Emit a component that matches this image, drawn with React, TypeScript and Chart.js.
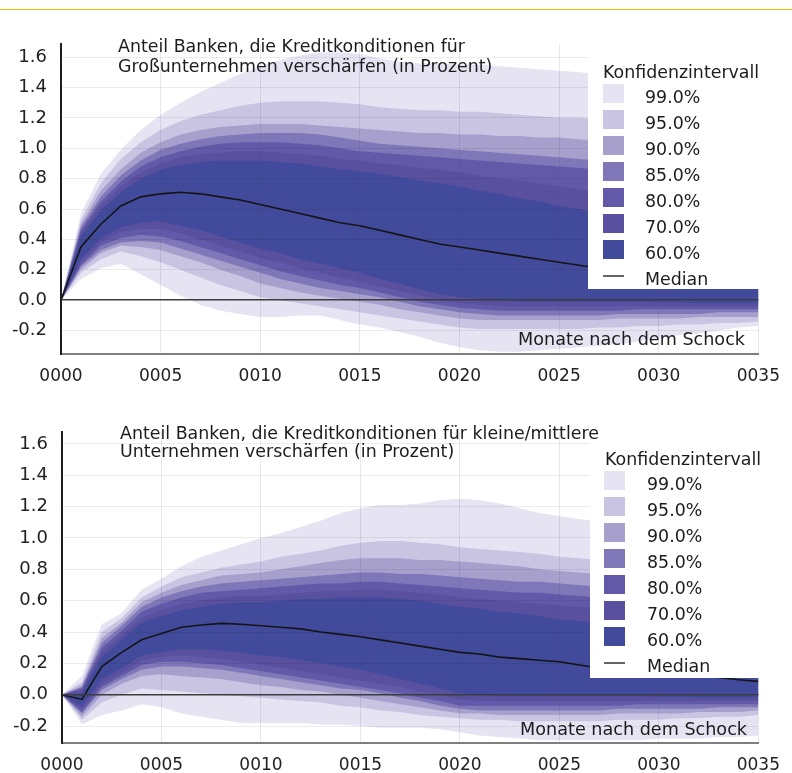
import React, { useEffect, useRef } from "react";
import { Chart, registerables } from "chart.js";

Chart.register(...registerables);

const FONT = "'DejaVu Sans', 'Liberation Sans', sans-serif";
const W = 792;

// Monate nach dem Schock (x categories)
const months = [0, 1, 2, 3, 4, 5, 6, 7, 8, 9, 10, 11, 12, 13, 14, 15, 16, 17, 18, 19, 20, 21, 22, 23, 24, 25, 26, 27, 28, 29, 30, 31, 32, 33, 34, 35];

const levelLabels = ["60.0%", "70.0%", "80.0%", "85.0%", "90.0%", "95.0%", "99.0%"];
const levelColors = ["#424b9b", "#5a50a0", "#625aa9", "#7f77b8", "#a7a0cd", "#c8c4e2", "#e6e4f3"];

const xTickStep = 5;
const yTickStep = 0.2;

// ---------- Panel 1: Großunternehmen ----------
const gMedian = [0, 0.35, 0.50, 0.62, 0.68, 0.70, 0.71, 0.70, 0.68, 0.66, 0.63, 0.60, 0.57, 0.54, 0.51, 0.49, 0.46, 0.43, 0.40, 0.37, 0.35, 0.33, 0.31, 0.29, 0.27, 0.25, 0.23, 0.21, 0.20, 0.18, 0.17, 0.16, 0.15, 0.14, 0.13, 0.12];

const gUp99 = [0, 0.57, 0.83, 0.99, 1.12, 1.22, 1.30, 1.37, 1.43, 1.49, 1.54, 1.58, 1.61, 1.63, 1.63, 1.62, 1.59, 1.57, 1.56, 1.56, 1.55, 1.55, 1.54, 1.53, 1.52, 1.51, 1.50, 1.49, 1.48, 1.47, 1.46, 1.45, 1.44, 1.43, 1.42, 1.41];
const gUp95 = [0, 0.53, 0.77, 0.93, 1.04, 1.12, 1.18, 1.22, 1.25, 1.28, 1.30, 1.31, 1.31, 1.31, 1.30, 1.29, 1.27, 1.26, 1.25, 1.25, 1.24, 1.24, 1.23, 1.22, 1.21, 1.20, 1.20, 1.19, 1.18, 1.17, 1.17, 1.16, 1.15, 1.14, 1.14, 1.13];
const gUp90 = [0, 0.50, 0.72, 0.86, 0.97, 1.04, 1.09, 1.12, 1.14, 1.15, 1.16, 1.16, 1.16, 1.15, 1.14, 1.13, 1.12, 1.11, 1.10, 1.10, 1.09, 1.09, 1.08, 1.08, 1.07, 1.07, 1.06, 1.05, 1.04, 1.03, 1.02, 1.01, 1.00, 0.99, 0.98, 0.97];
const gUp85 = [0, 0.48, 0.68, 0.82, 0.92, 0.99, 1.03, 1.06, 1.08, 1.09, 1.10, 1.10, 1.10, 1.09, 1.07, 1.05, 1.03, 1.02, 1.01, 1.00, 0.99, 0.98, 0.97, 0.96, 0.95, 0.94, 0.93, 0.92, 0.91, 0.90, 0.89, 0.88, 0.87, 0.86, 0.85, 0.84];
const gUp80 = [0, 0.46, 0.65, 0.78, 0.88, 0.94, 0.98, 1.01, 1.03, 1.04, 1.04, 1.04, 1.03, 1.02, 1.00, 0.98, 0.97, 0.96, 0.95, 0.94, 0.93, 0.92, 0.91, 0.90, 0.89, 0.88, 0.87, 0.86, 0.85, 0.84, 0.83, 0.82, 0.81, 0.80, 0.79, 0.78];
const gUp70 = [0, 0.44, 0.62, 0.75, 0.84, 0.90, 0.94, 0.96, 0.97, 0.98, 0.98, 0.97, 0.96, 0.95, 0.93, 0.92, 0.90, 0.89, 0.87, 0.86, 0.84, 0.82, 0.80, 0.79, 0.77, 0.75, 0.73, 0.71, 0.69, 0.67, 0.65, 0.63, 0.61, 0.59, 0.57, 0.55];
const gUp60 = [0, 0.42, 0.59, 0.71, 0.80, 0.86, 0.89, 0.91, 0.92, 0.92, 0.92, 0.91, 0.90, 0.88, 0.86, 0.85, 0.83, 0.81, 0.79, 0.77, 0.75, 0.72, 0.70, 0.67, 0.65, 0.62, 0.60, 0.57, 0.55, 0.52, 0.50, 0.48, 0.46, 0.44, 0.42, 0.40];

const gLo60 = [0, 0.27, 0.41, 0.48, 0.51, 0.52, 0.49, 0.46, 0.42, 0.38, 0.34, 0.31, 0.27, 0.24, 0.21, 0.18, 0.14, 0.11, 0.07, 0.04, 0.02, 0.01, 0.0, -0.01, -0.01, -0.01, -0.01, -0.01, -0.01, -0.01, -0.015, -0.015, -0.02, -0.02, -0.02, -0.02];
const gLo70 = [0, 0.25, 0.38, 0.45, 0.47, 0.47, 0.44, 0.40, 0.36, 0.32, 0.28, 0.25, 0.21, 0.18, 0.15, 0.12, 0.09, 0.06, 0.03, 0.0, -0.02, -0.03, -0.04, -0.04, -0.04, -0.04, -0.04, -0.04, -0.04, -0.04, -0.04, -0.04, -0.04, -0.04, -0.04, -0.04];
const gLo80 = [0, 0.23, 0.36, 0.41, 0.43, 0.42, 0.39, 0.35, 0.31, 0.27, 0.23, 0.19, 0.16, 0.13, 0.10, 0.08, 0.05, 0.02, -0.01, -0.03, -0.05, -0.06, -0.07, -0.07, -0.07, -0.07, -0.07, -0.07, -0.07, -0.06, -0.06, -0.06, -0.06, -0.06, -0.06, -0.06];
const gLo85 = [0, 0.22, 0.33, 0.38, 0.39, 0.38, 0.34, 0.30, 0.26, 0.22, 0.18, 0.14, 0.11, 0.08, 0.06, 0.04, 0.02, -0.01, -0.04, -0.06, -0.08, -0.09, -0.10, -0.10, -0.10, -0.10, -0.10, -0.10, -0.09, -0.09, -0.09, -0.09, -0.09, -0.08, -0.08, -0.08];
const gLo90 = [0, 0.20, 0.31, 0.36, 0.35, 0.33, 0.29, 0.25, 0.20, 0.16, 0.11, 0.08, 0.05, 0.03, 0.01, -0.01, -0.03, -0.06, -0.08, -0.10, -0.12, -0.13, -0.13, -0.13, -0.13, -0.13, -0.13, -0.13, -0.12, -0.12, -0.12, -0.12, -0.11, -0.11, -0.11, -0.11];
const gLo95 = [0, 0.18, 0.27, 0.32, 0.29, 0.25, 0.20, 0.15, 0.10, 0.06, 0.02, 0.0, -0.02, -0.04, -0.06, -0.08, -0.10, -0.12, -0.14, -0.16, -0.18, -0.19, -0.19, -0.19, -0.19, -0.19, -0.19, -0.18, -0.18, -0.17, -0.17, -0.16, -0.16, -0.15, -0.15, -0.14];
const gLo99 = [0, 0.14, 0.21, 0.24, 0.17, 0.10, 0.03, -0.03, -0.07, -0.09, -0.11, -0.11, -0.10, -0.10, -0.13, -0.16, -0.18, -0.21, -0.24, -0.28, -0.31, -0.33, -0.34, -0.34, -0.33, -0.32, -0.31, -0.30, -0.29, -0.27, -0.25, -0.23, -0.22, -0.20, -0.18, -0.17];

// ---------- Panel 2: kleine/mittlere Unternehmen ----------
const kMedian = [0, -0.03, 0.18, 0.27, 0.35, 0.39, 0.43, 0.445, 0.455, 0.45, 0.44, 0.43, 0.42, 0.40, 0.385, 0.37, 0.35, 0.33, 0.31, 0.29, 0.27, 0.26, 0.24, 0.23, 0.22, 0.21, 0.19, 0.17, 0.16, 0.15, 0.14, 0.13, 0.12, 0.11, 0.095, 0.085];

const kUp99 = [0, 0.12, 0.45, 0.52, 0.67, 0.74, 0.82, 0.88, 0.92, 0.96, 1.00, 1.03, 1.07, 1.11, 1.16, 1.19, 1.21, 1.21, 1.22, 1.24, 1.25, 1.24, 1.22, 1.19, 1.16, 1.14, 1.12, 1.11, 1.10, 1.09, 1.08, 1.07, 1.06, 1.05, 1.04, 1.03];
const kUp95 = [0, 0.08, 0.40, 0.49, 0.62, 0.69, 0.75, 0.78, 0.81, 0.83, 0.85, 0.88, 0.90, 0.92, 0.95, 0.97, 0.98, 0.98, 0.97, 0.96, 0.94, 0.93, 0.92, 0.91, 0.90, 0.88, 0.87, 0.86, 0.85, 0.84, 0.83, 0.82, 0.81, 0.80, 0.79, 0.78];
const kUp90 = [0, 0.06, 0.36, 0.46, 0.59, 0.65, 0.70, 0.73, 0.76, 0.77, 0.78, 0.80, 0.82, 0.84, 0.86, 0.87, 0.87, 0.87, 0.86, 0.86, 0.85, 0.84, 0.83, 0.82, 0.80, 0.79, 0.78, 0.77, 0.76, 0.75, 0.74, 0.73, 0.72, 0.71, 0.71, 0.70];
const kUp85 = [0, 0.05, 0.33, 0.44, 0.56, 0.62, 0.66, 0.69, 0.71, 0.72, 0.73, 0.74, 0.75, 0.76, 0.77, 0.78, 0.78, 0.77, 0.77, 0.76, 0.75, 0.74, 0.73, 0.72, 0.72, 0.71, 0.70, 0.69, 0.68, 0.67, 0.66, 0.65, 0.64, 0.63, 0.63, 0.62];
const kUp80 = [0, 0.04, 0.30, 0.41, 0.53, 0.58, 0.62, 0.65, 0.66, 0.67, 0.68, 0.69, 0.70, 0.71, 0.71, 0.72, 0.72, 0.71, 0.70, 0.69, 0.68, 0.67, 0.66, 0.65, 0.65, 0.64, 0.63, 0.62, 0.61, 0.60, 0.59, 0.58, 0.57, 0.56, 0.56, 0.55];
const kUp70 = [0, 0.03, 0.27, 0.38, 0.49, 0.54, 0.58, 0.60, 0.62, 0.63, 0.63, 0.64, 0.65, 0.66, 0.66, 0.67, 0.67, 0.66, 0.65, 0.64, 0.62, 0.61, 0.60, 0.59, 0.58, 0.57, 0.56, 0.55, 0.54, 0.53, 0.52, 0.51, 0.50, 0.50, 0.49, 0.48];
const kUp60 = [0, 0.01, 0.24, 0.35, 0.46, 0.50, 0.54, 0.56, 0.58, 0.59, 0.59, 0.60, 0.61, 0.61, 0.62, 0.62, 0.62, 0.61, 0.60, 0.58, 0.56, 0.55, 0.53, 0.52, 0.50, 0.48, 0.47, 0.46, 0.45, 0.44, 0.44, 0.43, 0.42, 0.41, 0.41, 0.40];

const kLo60 = [0, -0.07, 0.10, 0.17, 0.25, 0.27, 0.29, 0.29, 0.28, 0.27, 0.25, 0.24, 0.22, 0.20, 0.18, 0.16, 0.13, 0.10, 0.07, 0.04, 0.01, 0.0, -0.01, -0.01, -0.01, -0.01, -0.01, -0.01, -0.01, -0.01, -0.015, -0.015, -0.02, -0.02, -0.02, -0.02];
const kLo70 = [0, -0.09, 0.07, 0.14, 0.22, 0.24, 0.25, 0.24, 0.23, 0.21, 0.19, 0.17, 0.15, 0.13, 0.11, 0.09, 0.07, 0.05, 0.02, 0.0, -0.03, -0.04, -0.04, -0.04, -0.04, -0.04, -0.04, -0.04, -0.04, -0.04, -0.04, -0.04, -0.04, -0.04, -0.04, -0.04];
const kLo80 = [0, -0.11, 0.05, 0.12, 0.19, 0.21, 0.21, 0.20, 0.19, 0.17, 0.15, 0.13, 0.11, 0.09, 0.07, 0.05, 0.03, 0.01, -0.02, -0.04, -0.07, -0.07, -0.07, -0.07, -0.07, -0.07, -0.07, -0.07, -0.07, -0.06, -0.06, -0.06, -0.06, -0.06, -0.06, -0.06];
const kLo85 = [0, -0.12, 0.03, 0.10, 0.16, 0.18, 0.18, 0.17, 0.16, 0.14, 0.12, 0.10, 0.08, 0.06, 0.04, 0.03, 0.01, -0.02, -0.04, -0.07, -0.09, -0.10, -0.10, -0.10, -0.10, -0.10, -0.10, -0.10, -0.09, -0.09, -0.09, -0.09, -0.09, -0.08, -0.08, -0.08];
const kLo90 = [0, -0.14, 0.0, 0.07, 0.12, 0.13, 0.12, 0.11, 0.10, 0.08, 0.06, 0.05, 0.03, 0.02, 0.0, -0.02, -0.04, -0.06, -0.08, -0.10, -0.12, -0.12, -0.13, -0.13, -0.13, -0.13, -0.13, -0.13, -0.12, -0.12, -0.12, -0.12, -0.11, -0.11, -0.11, -0.10];
const kLo95 = [0, -0.16, -0.05, 0.0, 0.04, 0.03, 0.02, 0.01, 0.0, -0.01, -0.02, -0.03, -0.04, -0.05, -0.07, -0.08, -0.10, -0.11, -0.13, -0.14, -0.15, -0.16, -0.16, -0.17, -0.17, -0.17, -0.17, -0.17, -0.16, -0.16, -0.16, -0.15, -0.15, -0.14, -0.14, -0.13];
const kLo99 = [0, -0.19, -0.13, -0.10, -0.06, -0.08, -0.12, -0.14, -0.16, -0.18, -0.18, -0.18, -0.18, -0.19, -0.19, -0.20, -0.21, -0.21, -0.21, -0.22, -0.24, -0.26, -0.27, -0.28, -0.29, -0.29, -0.29, -0.29, -0.29, -0.29, -0.28, -0.28, -0.28, -0.27, -0.27, -0.26];

const gUppers = [gUp60, gUp70, gUp80, gUp85, gUp90, gUp95, gUp99];
const gLowers = [gLo60, gLo70, gLo80, gLo85, gLo90, gLo95, gLo99];
const kUppers = [kUp60, kUp70, kUp80, kUp85, kUp90, kUp95, kUp99];
const kLowers = [kLo60, kLo70, kLo80, kLo85, kLo90, kLo95, kLo99];

const gTitle = ["Anteil Banken, die Kreditkonditionen für", "Großunternehmen verschärfen (in Prozent)"];
const kTitle = ["Anteil Banken, die Kreditkonditionen für kleine/mittlere", "Unternehmen verschärfen (in Prozent)"];
const legendTitle = "Konfidenzintervall";
const medianLabel = "Median";
const xAxisLabel = "Monate nach dem Schock";

type PanelCfg = {
  top: number;
  height: number;
  areaLeft: number;
  areaRight: number;
  areaTop: number;
  areaBottom: number;
  yMin: number;
  yMax: number;
  median: number[];
  uppers: number[][];
  lowers: number[][];
  title: string[];
  titleX: number;
  titleY: number[];
  boxLeft: number;
  boxBottom: number;
  legTitleX: number;
  legTitleY: number;
  swatchX: number;
  swatchTop: number;
  labelX: number;
  xLabelRight: number;
  xLabelY: number;
};

const toXY = (arr: number[]) => months.map((m, i) => ({ x: m, y: arr[i] }));

function FanPanel({ cfg }: { cfg: PanelCfg }) {
  const ref = useRef<HTMLCanvasElement>(null);

  useEffect(() => {
    const canvas = ref.current;
    if (!canvas) return;

    const datasets: any[] = [
      {
        label: medianLabel,
        data: toXY(cfg.median),
        borderColor: "#141414",
        borderWidth: 1.6,
        pointRadius: 0,
        fill: false,
        tension: 0,
      },
    ];
    levelLabels.forEach((lab, k) => {
      datasets.push({
        label: lab + " oben",
        data: toXY(cfg.uppers[k]),
        borderColor: "rgba(0,0,0,0)",
        borderWidth: 0,
        backgroundColor: levelColors[k],
        pointRadius: 0,
        fill: "+1",
        tension: 0,
      });
      datasets.push({
        label: lab + " unten",
        data: toXY(cfg.lowers[k]),
        borderColor: "rgba(0,0,0,0)",
        borderWidth: 0,
        pointRadius: 0,
        fill: false,
        tension: 0,
      });
    });

    const overlay = {
      id: "overlay",
      afterDraw(chart: any) {
        const ctx = chart.ctx as CanvasRenderingContext2D;
        const area = chart.chartArea;
        ctx.save();
        // legend box
        ctx.fillStyle = "#ffffff";
        ctx.fillRect(cfg.boxLeft, area.top - 1, area.right - cfg.boxLeft + 2, cfg.boxBottom - area.top + 1);

        ctx.fillStyle = "#1c1c1c";
        ctx.textAlign = "left";
        ctx.textBaseline = "alphabetic";
        ctx.font = `17.4px ${FONT}`;
        // title
        cfg.title.forEach((t, i) => ctx.fillText(t, cfg.titleX, cfg.titleY[i]));
        // legend
        ctx.fillText(legendTitle, cfg.legTitleX, cfg.legTitleY);
        const order = [6, 5, 4, 3, 2, 1, 0];
        order.forEach((k, row) => {
          const top = cfg.swatchTop + row * 26;
          ctx.fillStyle = levelColors[k];
          ctx.fillRect(cfg.swatchX, top, 21, 19);
          ctx.fillStyle = "#1c1c1c";
          ctx.fillText(levelLabels[k], cfg.labelX, top + 19);
        });
        const mTop = cfg.swatchTop + 7 * 26;
        ctx.strokeStyle = "#666666";
        ctx.lineWidth = 2;
        ctx.beginPath();
        ctx.moveTo(cfg.swatchX, mTop + 10);
        ctx.lineTo(cfg.swatchX + 21, mTop + 10);
        ctx.stroke();
        ctx.fillStyle = "#1c1c1c";
        ctx.fillText(medianLabel, cfg.labelX, mTop + 19);
        // x axis label inside plot
        ctx.textAlign = "right";
        ctx.font = `17.6px ${FONT}`;
        ctx.fillText(xAxisLabel, cfg.xLabelRight, cfg.xLabelY);
        ctx.restore();
      },
    };

    const chart = new Chart(canvas, {
      type: "line",
      data: { datasets },
      options: {
        animation: false,
        responsive: false,
        devicePixelRatio: 1,
        layout: { padding: { left: 0, top: cfg.areaTop, right: W - cfg.areaRight, bottom: 0 } },
        plugins: {
          legend: { display: false },
          tooltip: { enabled: false },
          title: { display: false },
        },
        scales: {
          x: {
            type: "linear",
            min: 0,
            max: 35,
            afterFit: (s: any) => {
              s.height = cfg.height - cfg.areaBottom;
            },
            ticks: {
              stepSize: xTickStep,
              padding: 12,
              color: "#222222",
              font: { family: FONT, size: 17 },
              maxRotation: 0,
              autoSkip: false,
              callback: (v: any) => String(Math.round(Number(v))).padStart(4, "0"),
            },
            grid: { color: "rgba(70,70,110,0.13)", drawTicks: false, z: 1 },
            border: { display: true, color: "#7f7f7f", width: 2, z: 2 },
          },
          y: {
            type: "linear",
            min: cfg.yMin,
            max: cfg.yMax,
            afterFit: (s: any) => {
              s.width = cfg.areaLeft;
            },
            ticks: {
              stepSize: yTickStep,
              includeBounds: false,
              padding: 14,
              color: "#222222",
              font: { family: FONT, size: 18 },
              callback: (v: any) => (Math.abs(Number(v)) < 1e-9 ? "0.0" : Number(v).toFixed(1)),
            },
            grid: {
              drawTicks: false,
              z: 1,
              color: (c: any) => (c.tick && Math.abs(c.tick.value) < 1e-9 ? "#3c3c3c" : "rgba(0,0,0,0.075)"),
              lineWidth: (c: any) => (c.tick && Math.abs(c.tick.value) < 1e-9 ? 1.6 : 1),
            },
            border: { display: true, color: "#1e1e1e", width: 2, z: 2 },
          },
        },
      } as any,
      plugins: [overlay],
    });
    return () => chart.destroy();
  }, [cfg]);

  return (
    <canvas
      ref={ref}
      width={W}
      height={cfg.height}
      style={{ position: "absolute", left: 0, top: cfg.top, width: W, height: cfg.height, display: "block" }}
    />
  );
}

const topCfg: PanelCfg = {
  top: 0,
  height: 390,
  areaLeft: 61,
  areaRight: 759,
  areaTop: 44,
  areaBottom: 354,
  yMin: -0.354,
  yMax: 1.686,
  median: gMedian,
  uppers: gUppers,
  lowers: gLowers,
  title: gTitle,
  titleX: 118,
  titleY: [52, 72],
  boxLeft: 588,
  boxBottom: 289,
  legTitleX: 603,
  legTitleY: 78,
  swatchX: 603,
  swatchTop: 84,
  labelX: 645,
  xLabelRight: 745,
  xLabelY: 345,
};

const bottomCfg: PanelCfg = {
  top: 390,
  height: 383,
  areaLeft: 62,
  areaRight: 760,
  areaTop: 42,
  areaBottom: 353,
  yMin: -0.308,
  yMax: 1.676,
  median: kMedian,
  uppers: kUppers,
  lowers: kLowers,
  title: kTitle,
  titleX: 120,
  titleY: [49, 67],
  boxLeft: 590,
  boxBottom: 288,
  legTitleX: 605,
  legTitleY: 75,
  swatchX: 604,
  swatchTop: 81,
  labelX: 647,
  xLabelRight: 747,
  xLabelY: 345,
};

export default function App() {
  return (
    <div style={{ position: "absolute", left: 0, top: 0, width: W, height: 773, background: "#ffffff", overflow: "hidden" }}>
      <FanPanel cfg={topCfg} />
      <FanPanel cfg={bottomCfg} />
      <div style={{ position: "absolute", left: 0, top: 9, width: W, height: 1, background: "#f5c000", zIndex: 2 }} />
    </div>
  );
}
